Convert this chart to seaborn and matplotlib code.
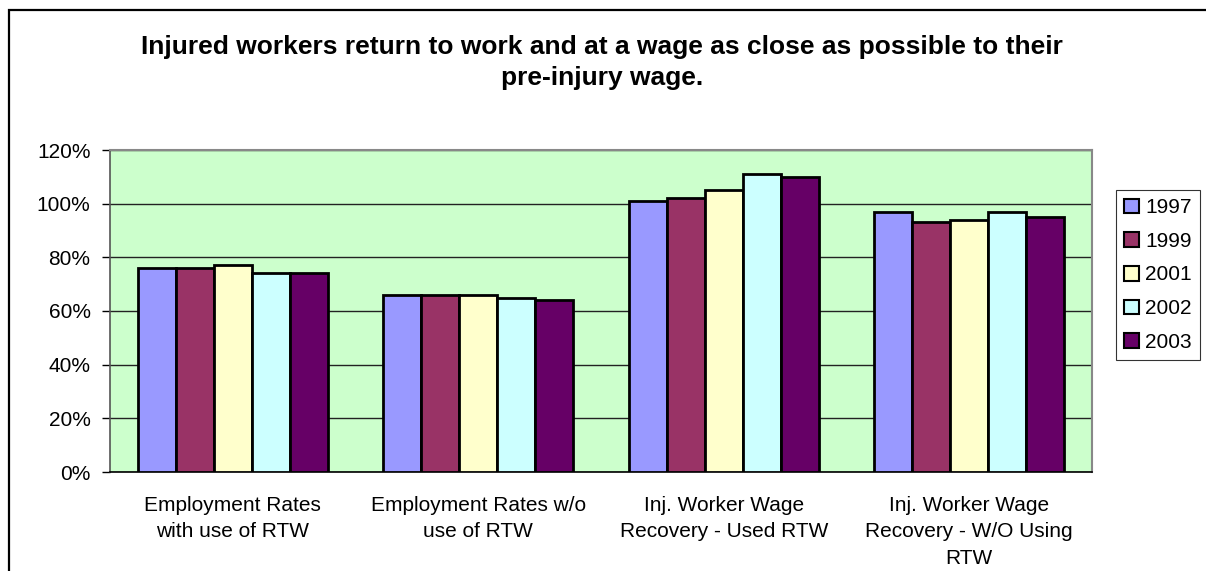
import matplotlib
matplotlib.use("Agg")
import matplotlib.pyplot as plt
from matplotlib.patches import Patch, Rectangle
from matplotlib.ticker import FuncFormatter
import pandas as pd
import seaborn as sns

categories = [
    "Employment Rates\nwith use of RTW",
    "Employment Rates w/o\nuse of RTW",
    "Inj. Worker Wage\nRecovery - Used RTW",
    "Inj. Worker Wage\nRecovery - W/O Using\nRTW",
]
years = ["1997", "1999", "2001", "2002", "2003"]
v1997 = [76, 66, 101, 97]
v1999 = [76, 66, 102, 93]
v2001 = [77, 66, 105, 94]
v2002 = [74, 65, 111, 97]
v2003 = [74, 64, 110, 95]
colors = ["#9999FF", "#993366", "#FFFFCC", "#CCFFFF", "#660066"]
title = "Injured workers return to work and at a wage as close as possible to their\npre-injury wage."

series = [v1997, v1999, v2001, v2002, v2003]
rows = []
for y, vals in zip(years, series):
    for c, v in zip(categories, vals):
        rows.append({"category": c, "year": y, "value": v})
df = pd.DataFrame(rows)

sns.set_style("white")
plt.rcParams["font.family"] = ["Liberation Sans", "DejaVu Sans"]
plt.rcParams["text.color"] = "black"
plt.rcParams["xtick.color"] = "black"
plt.rcParams["ytick.color"] = "black"
plt.rcParams["axes.labelcolor"] = "black"

W, H = 1206, 571
fig = plt.figure(figsize=(W / 100, H / 100), dpi=100)
ax = fig.add_axes([110 / W, 1 - 472 / H, (1092 - 110) / W, (472 - 150) / H])
ax.set_facecolor("#CCFFCC")

sns.barplot(data=df, x="category", y="value", hue="year", order=categories,
            hue_order=years, palette=colors, saturation=1, width=0.774, gap=0,
            edgecolor="black", linewidth=2.0, ax=ax, legend=False, zorder=3)

ax.set_ylim(0, 120)
ax.set_xlim(-0.5, 3.5)
ax.set_yticks(range(0, 121, 20))
ax.yaxis.set_major_formatter(FuncFormatter(lambda v, p: f"{int(v)}%"))
ax.yaxis.grid(True, color="#222222", linewidth=1.0, zorder=1)
ax.set_axisbelow(True)
ax.set_xlabel("")
ax.set_ylabel("")

ax.set_xticks([-0.5, 0.5, 1.5, 2.5, 3.5], minor=True)
ax.tick_params(axis="x", which="major", length=0, pad=17, labelsize=15)
ax.tick_params(axis="x", which="minor", length=6, width=1, color="black", direction="out")
ax.tick_params(axis="y", which="major", length=6, width=1, color="black", direction="out",
               labelsize=15, pad=8, left=True)
for lab in ax.get_xticklabels():
    lab.set_linespacing(1.5)

for s in ["top", "right"]:
    ax.spines[s].set_color("#888888")
    ax.spines[s].set_linewidth(1.5)
ax.spines["left"].set_color("#555555")
ax.spines["left"].set_linewidth(1.2)
ax.spines["bottom"].set_color("black")
ax.spines["bottom"].set_linewidth(1.2)

fig.text(602 / W, 1 - 62.5 / H, title, ha="center", va="center", fontsize=19,
         fontweight="bold", linespacing=1.32)

handles = [Patch(facecolor=c, edgecolor="black", linewidth=1.5) for c in colors]
leg = fig.legend(handles, years, loc="upper left",
                 bbox_to_anchor=(1116 / W, 1 - 190 / H), fontsize=15,
                 frameon=True, fancybox=False, handlelength=0.7, handleheight=0.7,
                 handletextpad=0.3, labelspacing=0.7, borderpad=0.4,
                 borderaxespad=0)
leg.get_frame().set_edgecolor("black")
leg.get_frame().set_linewidth(0.8)

fig.patches.append(Rectangle((8.5 / W, -0.1), 1.2, 1 - 9.5 / H + 0.1,
                             transform=fig.transFigure, fill=False,
                             edgecolor="black", linewidth=1.6))

fig.savefig("out.png", dpi=100)
